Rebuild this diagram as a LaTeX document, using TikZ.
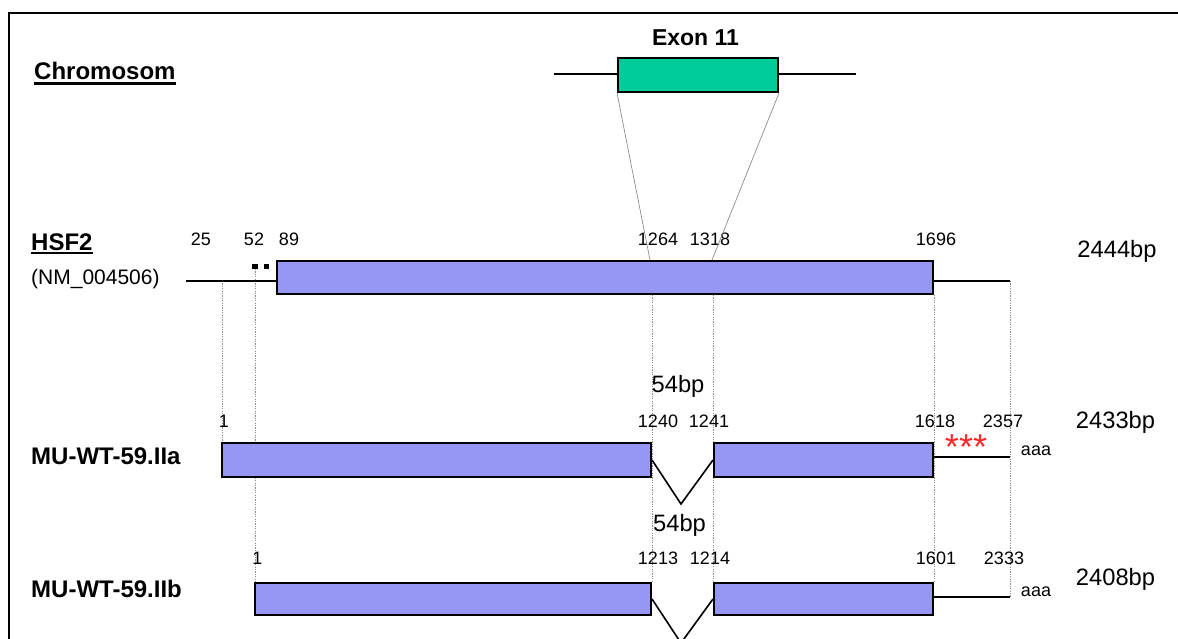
\documentclass[tikz,border=0pt]{standalone}
\usepackage{fontspec}
\setmainfont{Liberation Sans}
\usetikzlibrary{backgrounds}
\definecolor{cdsblue}{RGB}{150,150,245}
\definecolor{exongreen}{RGB}{0,204,153}
\definecolor{guidegray}{RGB}{140,140,140}
\definecolor{stopred}{RGB}{255,40,40}
\begin{document}
\begin{tikzpicture}[x=1pt,y=-1pt,
  title/.style={inner sep=0pt, font=\fontsize{24}{28}\selectfont\bfseries},
  acc/.style={inner sep=0pt, font=\fontsize{21}{24}\selectfont},
  num/.style={inner sep=0pt, anchor=base, font=\fontsize{18}{20}\selectfont},
  size/.style={inner sep=0pt, anchor=base, font=\fontsize{23.7}{26}\selectfont},
  polya/.style={inner sep=0pt, anchor=base, font=\fontsize{18}{20}\selectfont},
  cds/.style={draw=black, line width=2pt, fill=cdsblue, rectangle, inner sep=0pt, anchor=north west},
  exonbox/.style={draw=black, line width=2pt, fill=exongreen, rectangle, inner sep=0pt, anchor=north west},
  seq/.style={draw=black, line width=2pt},
  splice/.style={draw=black, line width=1.6pt},
  guide/.style={draw=guidegray, line width=0.8pt, dash pattern=on 1.2pt off 1.2pt},
  zoomline/.style={draw=guidegray, line width=0.7pt},
  marker/.style={fill=black, inner sep=0pt, minimum width=5.5pt, minimum height=5pt}]

\useasboundingbox (0,0) rectangle (1178,639);

% frame
\draw[line width=2.4pt] (8.7,639) -- (8.7,13) -- (1178,13);

% chromosome with exon 11
\node[title, anchor=base west] (chrom) at (34,80) {Chromosom};
\draw[line width=2.4pt] ([yshift=-3.5pt]chrom.base west) -- ([yshift=-3.5pt]chrom.base east);
\node[title, anchor=base, font=\fontsize{23}{26}\selectfont\bfseries] (exlab) at (695.5,46) {Exon 11};
\node[exonbox, minimum width=160pt, minimum height=34pt] (exon) at (617,57) {};
\coordinate (chrL) at (554,74.5);
\coordinate (chrR) at (856,74.5);
\draw[seq] (chrL) -- (chrL -| exon.west);
\draw[seq] (chrR -| exon.east) -- (chrR);

% HSF2 transcript
\node[title, anchor=base west] (hsf) at (31,250.7) {HSF2};
\draw[line width=2pt] ([yshift=-2.5pt]hsf.base west) -- ([yshift=-2.5pt]hsf.base east);
\node[acc, anchor=base west] (acc) at (31,284) {(NM\_004506)};
\node[cds, minimum width=656pt, minimum height=33pt] (h1) at (276,260) {};
\coordinate (h5) at (186,281);
\coordinate (h3) at (1010,281);
\draw[seq] (h5) -- (h5 -| h1.west);
\draw[seq] (h1.east |- h3) -- (h3);
\node[marker] (sq1) at (255.2,266.2) {};
\node[marker] (sq2) at (266.7,266.2) {};
\node[num] (n25) at (201,246) {25};
\node[num] (n52) at (254,246) {52};
\node[num] (n89) at (289,246) {89};
\node[num] (n1264) at (658,246) {1264};
\node[num] (n1318) at (710,246) {1318};
\node[num] (n1696) at (936,246) {1696};
\node[size] (len0) at (1117,258) {2444bp};

% exon 11 projected onto the transcript
\coordinate (j1) at (650,260);
\coordinate (j2) at (712,260);
\draw[zoomline] (exon.south west) -- (j1);
\draw[zoomline] (exon.south east) -- (j2);

% MU-WT-59.IIa
\node[title, anchor=base west] (isoA) at (31,464) {MU-WT-59.IIa};
\node[cds, minimum width=429pt, minimum height=34pt] (a1) at (221,442) {};
\node[cds, minimum width=219pt, minimum height=34pt] (a2) at (713,442) {};
\coordinate (av) at (681,504);
\coordinate (a3) at (1010,457);
\draw[splice] (a1.east) -- (av) -- (a2.west);
\draw[seq] (a2.east |- a3) -- (a3);
\node[size] (gapA) at (678,392) {54bp};
\node[num] (a_1) at (224,427) {1};
\node[num] (a_1240) at (658,427) {1240};
\node[num] (a_1241) at (709,427) {1241};
\node[num] (a_1618) at (935,427) {1618};
\node[num] (a_2357) at (1003,427) {2357};
\node[size] (lenA) at (1115.5,428) {2433bp};
\node[inner sep=0pt, anchor=base, text=stopred, font=\fontsize{36}{40}\selectfont] (stop) at (966,459.5) {***};
\node[polya] (polyA) at (1036,455) {aaa};

% MU-WT-59.IIb
\node[title, anchor=base west] (isoB) at (31,597) {MU-WT-59.IIb};
\node[cds, minimum width=396pt, minimum height=32pt] (b1) at (254,582) {};
\node[cds, minimum width=219pt, minimum height=32pt] (b2) at (713,582) {};
\coordinate (bv) at (681,643);
\coordinate (b3) at (1010,597);
\draw[splice] (b1.east) -- (bv) -- (b2.west);
\draw[seq] (b2.east |- b3) -- (b3);
\node[size] (gapB) at (679.5,531) {54bp};
\node[num] (b_1) at (257.5,564) {1};
\node[num] (b_1213) at (658,564) {1213};
\node[num] (b_1214) at (710,564) {1214};
\node[num] (b_1601) at (936,564) {1601};
\node[num] (b_2333) at (1004,564) {2333};
\node[size] (lenB) at (1115.5,585) {2408bp};
\node[polya] (polyB) at (1036,596) {aaa};

% alignment guides
\begin{scope}[on background layer]
  \coordinate (g1) at (222,281);
  \draw[guide] (g1) -- (g1 |- a1.north);
  \draw[guide] (sq1.south) -- (sq1.south |- b1.north);
  \draw[guide] (a1.north east |- h1.south) -- (b1.north east);
  \draw[guide] (a2.north west |- h1.south) -- (b2.north west);
  \draw[guide] (h1.south east) -- (b2.north east);
  \draw[guide] (h3) -- (b3);
\end{scope}
\end{tikzpicture}
\end{document}
